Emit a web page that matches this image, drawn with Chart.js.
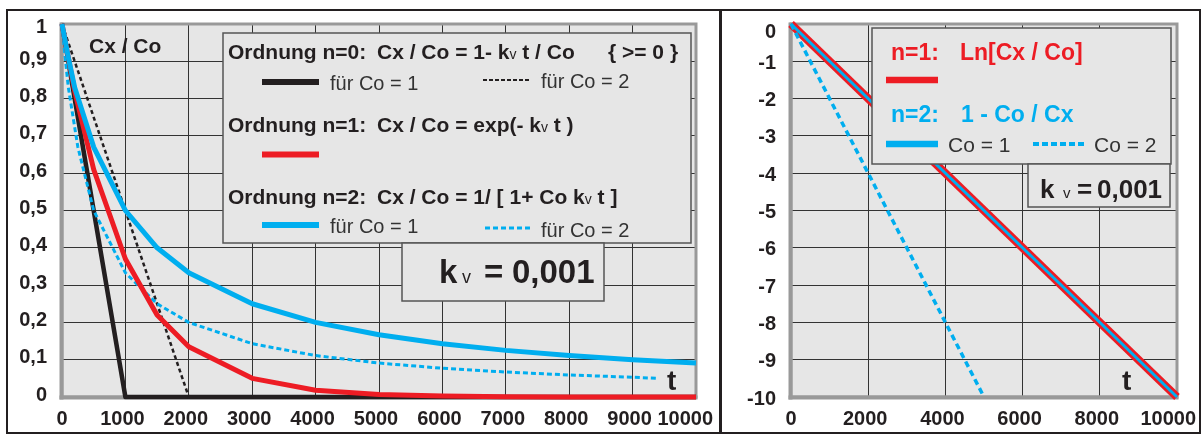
<!DOCTYPE html>
<html><head><meta charset="utf-8">
<script src="https://cdn.jsdelivr.net/npm/chart.js@4.4.0/dist/chart.umd.min.js"></script>
<style>
html,body{margin:0;padding:0;background:#fff;width:1202px;height:435px;overflow:hidden;}
canvas{position:absolute;top:0;}
#cL{left:0;}
#cR{left:720px;}
.frame{position:absolute;left:6px;top:9px;width:1191px;height:421px;border:2px solid #231f20;pointer-events:none;}
.divider{position:absolute;left:719px;top:9px;width:3px;height:425px;background:#231f20;pointer-events:none;}
</style></head>
<body>
<canvas id="cL" width="720" height="435"></canvas>
<canvas id="cR" width="482" height="435"></canvas>
<div class="frame"></div>
<div class="divider"></div>
<script>
// ---------- data: left chart (Cx / Co over t) ----------
const leftXTicks = [0,1000,2000,3000,4000,5000,6000,7000,8000,9000,10000];
const leftXLabels = ['0','1000','2000','3000','4000','5000','6000','7000','8000','9000','10000'];
const leftYTicks = [0,0.1,0.2,0.3,0.4,0.5,0.6,0.7,0.8,0.9,1];
const leftYLabels = ['0','0,1','0,2','0,3','0,4','0,5','0,6','0,7','0,8','0,9','1'];

const n0c1T = [0, 1000, 10000];
const n0c1Y = [1, 0, 0];
const n0c2T = [0, 2000];
const n0c2Y = [1, 0];
const n1T = [0, 200, 500, 1000, 1500, 2000, 3000, 4000, 5000, 6000, 7000, 8000, 9000, 10000];
const n1Y = [1, 0.82, 0.61, 0.37, 0.22, 0.135, 0.05, 0.018, 0.007, 0.0025, 0.001, 0.0003, 0.0001, 0];
const n2c1T = [0, 100, 200, 500, 1000, 1500, 2000, 3000, 4000, 5000, 6000, 7000, 8000, 9000, 10000];
const n2c1Y = [1, 0.91, 0.83, 0.67, 0.5, 0.4, 0.333, 0.25, 0.2, 0.167, 0.143, 0.125, 0.111, 0.1, 0.091];
const n2c2T = [0, 50, 100, 250, 500, 1000, 1500, 2000, 3000, 4000, 5000, 6000, 7000, 8000, 9000, 9400];
const n2c2Y = [1, 0.91, 0.83, 0.67, 0.5, 0.333, 0.25, 0.2, 0.143, 0.111, 0.091, 0.077, 0.067, 0.059, 0.053, 0.05];

// ---------- data: right chart (linearised) ----------
const rightXTicks = [0,2000,4000,6000,8000,10000];
const rightXLabels = ['0','2000','4000','6000','8000','10000'];
const rightYTicks = [-10,-9,-8,-7,-6,-5,-4,-3,-2,-1,0];
const rightYLabels = ['-10','-9','-8','-7','-6','-5','-4','-3','-2','-1','0'];

const lnT = [0, 10000];
const lnY = [0, -10];
const inv1T = [0, 10000];
const inv1Y = [0, -10];
const inv2T = [0, 5000];
const inv2Y = [0, -10];

// ---------- helpers ----------
const FAM = '"Liberation Sans", Arial, Helvetica, sans-serif';
const DARK = '#231f20';
const RED = '#ed1c24';
const BLUE = '#00aeef';
Chart.defaults.font.family = FAM;

const pts = (xs, ys) => xs.map((x, i) => ({x, y: ys[i]}));

function runs(ctx, x, y, parts) {
  for (const [t, f] of parts) { ctx.font = f; ctx.fillText(t, x, y); x += ctx.measureText(t).width; }
}
function box(ctx, x, y, w, h) {
  ctx.fillStyle = '#e6e6e6'; ctx.fillRect(x, y, w, h);
  ctx.strokeStyle = '#555'; ctx.lineWidth = 1.5; ctx.strokeRect(x, y, w, h);
}
function seg(ctx, x1, x2, y, color, lw, dash) {
  ctx.save(); ctx.strokeStyle = color; ctx.lineWidth = lw; ctx.setLineDash(dash || []);
  ctx.beginPath(); ctx.moveTo(x1, y); ctx.lineTo(x2, y); ctx.stroke(); ctx.restore();
}

const TICKFONT = 'bold 20px ' + FAM;

const decor = {
  id: 'decor',
  beforeDraw(chart) {
    const {ctx, chartArea: a} = chart;
    ctx.save(); ctx.fillStyle = '#e6e6e6';
    ctx.fillRect(a.left, a.top, a.right - a.left, a.bottom - a.top); ctx.restore();
  },
  beforeDatasetsDraw(chart) {
    const {ctx, chartArea: a} = chart;
    ctx.save();
    ctx.strokeStyle = '#999'; ctx.lineWidth = 3;
    ctx.strokeRect(a.left, a.top, a.right - a.left, a.bottom - a.top);
    ctx.lineWidth = 4;
    ctx.beginPath(); ctx.moveTo(a.left - 0.5, a.top - 1.5); ctx.lineTo(a.left - 0.5, a.bottom + 2.5); ctx.stroke();
    ctx.beginPath(); ctx.moveTo(a.left - 2.5, a.bottom + 0.5); ctx.lineTo(a.right + 1.5, a.bottom + 0.5); ctx.stroke();
    ctx.restore();
  },
  afterDatasetsDraw(chart, args, opts) {
    const {ctx, chartArea: a} = chart;
    const xs = chart.scales.x, ys = chart.scales.y;
    ctx.save();
    ctx.fillStyle = DARK; ctx.font = TICKFONT; ctx.textBaseline = 'alphabetic'; ctx.textAlign = 'left';
    opts.xTicks.forEach((v, i) => {
      const t = opts.xLabels[i];
      const w = ctx.measureText(t).width;
      let cx = xs.getPixelForValue(v) + (v === 0 ? 0 : -3);
      if (cx + w / 2 > opts.maxRight) cx = opts.maxRight - w / 2;
      ctx.fillText(t, cx - w / 2, 425);
    });
    ctx.textAlign = 'right'; ctx.textBaseline = 'middle';
    opts.yTicks.forEach((v, i) => {
      ctx.fillText(opts.yLabels[i], a.left - 15, ys.getPixelForValue(v) + opts.yOff(v));
    });
    ctx.textAlign = 'left'; ctx.textBaseline = 'alphabetic';
    opts.draw(ctx);
    ctx.restore();
  }
};

function makeScales(xTicks, xMax, yTicks, yMin, yMax, yWidth) {
  return {
    x: {
      type: 'linear', min: 0, max: xMax,
      afterBuildTicks: s => { s.ticks = xTicks.map(v => ({value: v})); },
      afterFit: s => { s.height = 38; s.paddingLeft = 0; s.paddingRight = 0; },
      ticks: {display: false},
      grid: {color: '#333', lineWidth: 1, drawTicks: false},
      border: {display: false}
    },
    y: {
      type: 'linear', min: yMin, max: yMax,
      afterBuildTicks: s => { s.ticks = yTicks.map(v => ({value: v})); },
      afterFit: s => { s.width = yWidth; s.paddingTop = 0; s.paddingBottom = 0; },
      ticks: {display: false},
      grid: {color: '#333', lineWidth: 1, drawTicks: false},
      border: {display: false}
    }
  };
}

const common = {
  responsive: false, devicePixelRatio: 1, animation: false,
  events: [],
  plugins: {legend: {display: false}, tooltip: {enabled: false}}
};

function ds(data, color, width, dash) {
  return {data, borderColor: color, borderWidth: width, borderDash: dash || [], showLine: true,
    pointRadius: 0, tension: 0, fill: false, borderJoinStyle: 'round', clip: false};
}

// ---------- left chart ----------
new Chart(document.getElementById('cL'), {
  type: 'scatter',
  data: {datasets: [
    ds(pts(n2c1T, n2c1Y), BLUE, 5),
    ds(pts(n1T, n1Y), RED, 5),
    ds(pts(n2c2T, n2c2Y), BLUE, 3, [5, 3]),
    ds(pts(n0c2T, n0c2Y), DARK, 2.5, [4, 3]),
    ds(pts(n0c1T, n0c1Y), DARK, 4.5)
  ]},
  options: Object.assign({}, common, {
    layout: {padding: {left: 0, right: 24, top: 24, bottom: 0}},
    scales: makeScales(leftXTicks, 10000, leftYTicks, 0, 1, 62),
    plugins: Object.assign({}, common.plugins, {decor: {
      xTicks: leftXTicks, xLabels: leftXLabels, maxRight: 713,
      yTicks: leftYTicks, yLabels: leftYLabels, yOff: v => (v === 1 ? 3 : -2),
      draw(ctx) {
        const B = 'bold 21px ' + FAM, S = '14px ' + FAM, N = '20px ' + FAM;
        box(ctx, 223, 33, 468, 210);
        ctx.fillStyle = DARK;
        runs(ctx, 228, 59, [['Ordnung n=0:', B]]);
        runs(ctx, 377, 59, [['Cx / Co = 1- k', B], ['v', S], [' t / Co', B]]);
        runs(ctx, 608, 59, [['{ >= 0 }', B]]);
        seg(ctx, 262, 319, 82, DARK, 6);
        ctx.fillStyle = '#333'; runs(ctx, 330, 90, [['für Co = 1', N]]);
        seg(ctx, 483, 530, 80, DARK, 2, [4, 2]);
        ctx.fillStyle = '#333'; runs(ctx, 541, 88, [['für Co = 2', N]]);
        ctx.fillStyle = DARK;
        runs(ctx, 228, 132, [['Ordnung n=1:', B]]);
        runs(ctx, 377, 132, [['Cx / Co = exp(- k', B], ['v', S], [' t )', B]]);
        seg(ctx, 262, 319, 154.5, RED, 6);
        ctx.fillStyle = DARK;
        runs(ctx, 228, 204, [['Ordnung n=2:', B]]);
        runs(ctx, 377, 204, [['Cx / Co = 1/ [ 1+ Co k', B], ['v', S], [' t ]', B]]);
        seg(ctx, 262, 319, 225, BLUE, 6);
        ctx.fillStyle = '#333'; runs(ctx, 330, 233, [['für Co = 1', N]]);
        seg(ctx, 485, 532, 228, BLUE, 3, [5, 3]);
        ctx.fillStyle = '#333'; runs(ctx, 541, 237, [['für Co = 2', N]]);
        box(ctx, 402, 243, 202, 58);
        ctx.fillStyle = DARK;
        runs(ctx, 439, 283, [['k', 'bold 33px ' + FAM]]);
        runs(ctx, 462, 283, [['v', '18px ' + FAM]]);
        runs(ctx, 484, 283, [['=', 'bold 33px ' + FAM]]);
        runs(ctx, 512, 283, [['0,001', 'bold 33px ' + FAM]]);
        runs(ctx, 89, 53, [['Cx / Co', B]]);
        runs(ctx, 667, 390, [['t', 'bold 28px ' + FAM]]);
      }
    }})
  }),
  plugins: [decor]
});

// ---------- right chart ----------
const OX = 720;
new Chart(document.getElementById('cR'), {
  type: 'scatter',
  data: {datasets: [
    ds(pts(inv2T, inv2Y), BLUE, 3.5, [6, 4]),
    ds(pts(inv1T, inv1Y), BLUE, 3),
    ds(pts(lnT, lnY), RED, 8)
  ]},
  options: Object.assign({}, common, {
    layout: {padding: {left: 0, right: 25, top: 24, bottom: 0}},
    scales: makeScales(rightXTicks, 10000, rightYTicks, -10, 0, 71),
    plugins: Object.assign({}, common.plugins, {decor: {
      xTicks: rightXTicks, xLabels: rightXLabels, maxRight: 1196 - OX,
      yTicks: rightYTicks, yLabels: rightYLabels, yOff: v => (v === 0 ? 8 : 2),
      draw(ctx) {
        const B = 'bold 23px ' + FAM, N = '21px ' + FAM;
        box(ctx, 872 - OX, 28, 299, 136);
        ctx.fillStyle = RED;
        runs(ctx, 891 - OX, 60, [['n=1:', B]]);
        runs(ctx, 960 - OX, 60, [['Ln[Cx / Co]', B]]);
        seg(ctx, 886 - OX, 938 - OX, 80, RED, 6.5);
        ctx.fillStyle = BLUE;
        runs(ctx, 891 - OX, 122, [['n=2:', B]]);
        runs(ctx, 961 - OX, 122, [['1 - Co / Cx', B]]);
        seg(ctx, 886 - OX, 938 - OX, 144, BLUE, 6.5);
        ctx.fillStyle = '#333'; runs(ctx, 948 - OX, 152, [['Co = 1', N]]);
        seg(ctx, 1033 - OX, 1084 - OX, 144, BLUE, 4, [6, 3]);
        ctx.fillStyle = '#333'; runs(ctx, 1094 - OX, 152, [['Co = 2', N]]);
        box(ctx, 1028 - OX, 164, 142, 43);
        ctx.fillStyle = DARK;
        runs(ctx, 1040 - OX, 198, [['k', 'bold 26px ' + FAM]]);
        runs(ctx, 1063 - OX, 198, [['v', '15px ' + FAM]]);
        runs(ctx, 1077 - OX, 198, [['=', 'bold 26px ' + FAM]]);
        runs(ctx, 1097 - OX, 198, [['0,001', 'bold 26px ' + FAM]]);
        runs(ctx, 1122 - OX, 390, [['t', 'bold 28px ' + FAM]]);
      }
    }})
  }),
  plugins: [decor]
});
</script>
</body></html>
